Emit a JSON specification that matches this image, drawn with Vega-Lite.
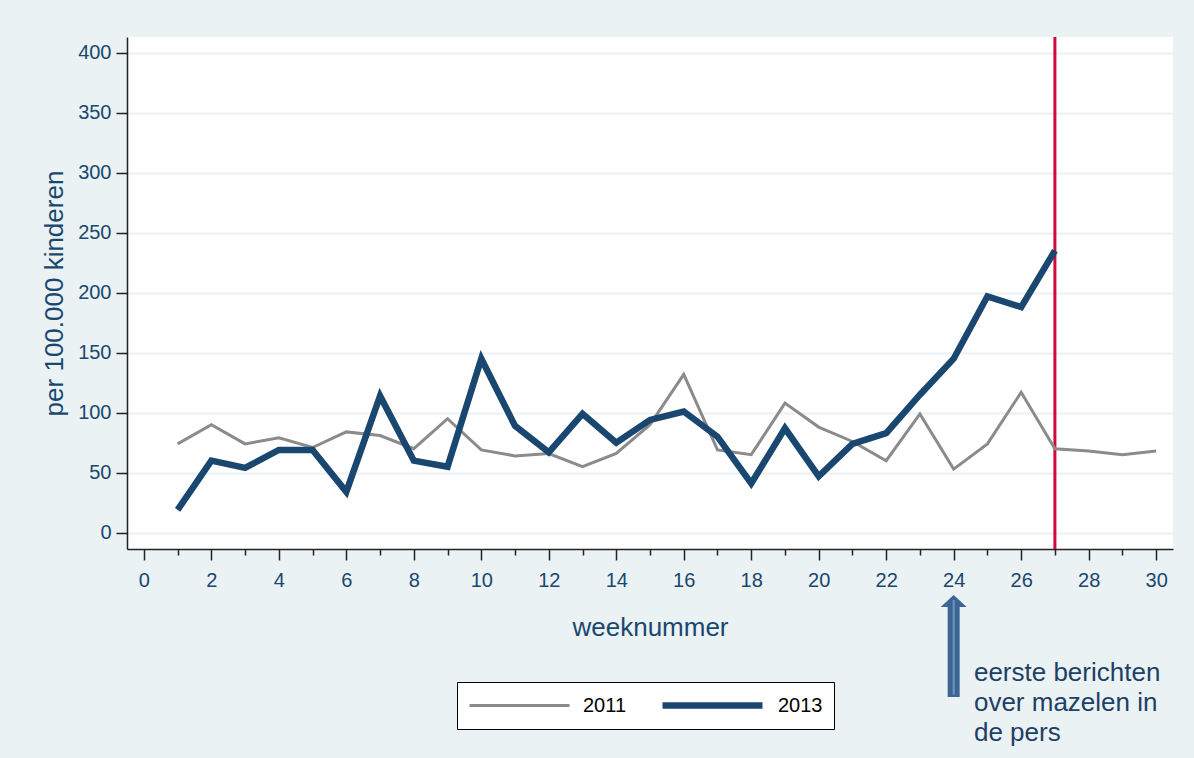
{
  "$schema": "https://vega.github.io/schema/vega-lite/v6.json",
  "width": 1046,
  "height": 512,
  "autosize": {"type": "none"},
  "padding": {"left": 127, "top": 37, "right": 21, "bottom": 209},
  "background": "#EAF2F3",
  "view": {"fill": "white", "stroke": null},
  "config": {
    "font": "Liberation Sans",
    "axisX": {
      "tickColor": "#222222", "tickWidth": 1.5,
      "domainColor": "#222222", "domainWidth": 1.5,
      "labelFontSize": 20, "labelColor": "#1A476F", "labelPadding": 10,
      "labelFlush": false, "labelOverlap": false,
      "titleFontSize": 26, "titleFontWeight": "normal",
      "titleColor": "#1A476F", "titlePadding": 24,
      "grid": false
    },
    "axisY": {
      "tickSize": 11, "tickColor": "#222222", "tickWidth": 1.5,
      "domainColor": "#222222", "domainWidth": 1.5,
      "labelFontSize": 20, "labelColor": "#1A476F", "labelPadding": 5,
      "titleFontSize": 26, "titleFontWeight": "normal",
      "titleColor": "#1A476F", "titlePadding": 10,
      "grid": true, "gridColor": "#EAF2F3", "gridWidth": 2
    }
  },
  "datasets": {
    "series": [
      {"week": 1, "year": "2011", "value": 74},
      {"week": 2, "year": "2011", "value": 90},
      {"week": 3, "year": "2011", "value": 74},
      {"week": 4, "year": "2011", "value": 79},
      {"week": 5, "year": "2011", "value": 71},
      {"week": 6, "year": "2011", "value": 84},
      {"week": 7, "year": "2011", "value": 81},
      {"week": 8, "year": "2011", "value": 70},
      {"week": 9, "year": "2011", "value": 95},
      {"week": 10, "year": "2011", "value": 69},
      {"week": 11, "year": "2011", "value": 64},
      {"week": 12, "year": "2011", "value": 66},
      {"week": 13, "year": "2011", "value": 55},
      {"week": 14, "year": "2011", "value": 66},
      {"week": 15, "year": "2011", "value": 90},
      {"week": 16, "year": "2011", "value": 132},
      {"week": 17, "year": "2011", "value": 69},
      {"week": 18, "year": "2011", "value": 65},
      {"week": 19, "year": "2011", "value": 108},
      {"week": 20, "year": "2011", "value": 88},
      {"week": 21, "year": "2011", "value": 76},
      {"week": 22, "year": "2011", "value": 60},
      {"week": 23, "year": "2011", "value": 99},
      {"week": 24, "year": "2011", "value": 53},
      {"week": 25, "year": "2011", "value": 74},
      {"week": 26, "year": "2011", "value": 117},
      {"week": 27, "year": "2011", "value": 70},
      {"week": 28, "year": "2011", "value": 68},
      {"week": 29, "year": "2011", "value": 65},
      {"week": 30, "year": "2011", "value": 68},
      {"week": 1, "year": "2013", "value": 19},
      {"week": 2, "year": "2013", "value": 60},
      {"week": 3, "year": "2013", "value": 54},
      {"week": 4, "year": "2013", "value": 69},
      {"week": 5, "year": "2013", "value": 69},
      {"week": 6, "year": "2013", "value": 34},
      {"week": 7, "year": "2013", "value": 114},
      {"week": 8, "year": "2013", "value": 60},
      {"week": 9, "year": "2013", "value": 55},
      {"week": 10, "year": "2013", "value": 145},
      {"week": 11, "year": "2013", "value": 89},
      {"week": 12, "year": "2013", "value": 67},
      {"week": 13, "year": "2013", "value": 99},
      {"week": 14, "year": "2013", "value": 75},
      {"week": 15, "year": "2013", "value": 94},
      {"week": 16, "year": "2013", "value": 101},
      {"week": 17, "year": "2013", "value": 80},
      {"week": 18, "year": "2013", "value": 41},
      {"week": 19, "year": "2013", "value": 87},
      {"week": 20, "year": "2013", "value": 47},
      {"week": 21, "year": "2013", "value": 74},
      {"week": 22, "year": "2013", "value": 83},
      {"week": 23, "year": "2013", "value": 115},
      {"week": 24, "year": "2013", "value": 145},
      {"week": 25, "year": "2013", "value": 197},
      {"week": 26, "year": "2013", "value": 188},
      {"week": 27, "year": "2013", "value": 235}
    ],
    "event": [{"week": 27}],
    "note": [
      {"week": 24, "shaftBottom": -137, "shaftTop": -60, "stripeBottom": -135, "stripeTop": -56, "head": -57, "textWeek": 24.6, "textY": -124, "label": "eerste berichten\nover mazelen in\nde pers"}
    ]
  },
  "layer": [
    {
      "data": {"name": "event"},
      "mark": {"type": "rule", "color": "#CF0A3C", "strokeWidth": 3},
      "encoding": {
        "x": {
          "field": "week", "type": "quantitative",
          "scale": {"domain": [-0.5, 30.5], "nice": false, "zero": false},
          "axis": {
            "values": [0,1,2,3,4,5,6,7,8,9,10,11,12,13,14,15,16,17,18,19,20,21,22,23,24,25,26,27,28,29,30],
            "labelExpr": "datum.value % 2 === 0 ? datum.label : ''",
            "tickSize": {"condition": {"test": "datum.value % 2 === 0", "value": 11}, "value": 6},
            "title": "weeknummer"
          }
        }
      }
    },
    {
      "data": {"name": "series"},
      "mark": {"type": "line", "strokeJoin": "miter", "strokeCap": "butt"},
      "encoding": {
        "x": {
          "field": "week", "type": "quantitative",
          "scale": {"domain": [-0.5, 30.5], "nice": false, "zero": false},
          "axis": {
            "values": [0,1,2,3,4,5,6,7,8,9,10,11,12,13,14,15,16,17,18,19,20,21,22,23,24,25,26,27,28,29,30],
            "labelExpr": "datum.value % 2 === 0 ? datum.label : ''",
            "tickSize": {"condition": {"test": "datum.value % 2 === 0", "value": 11}, "value": 6},
            "title": "weeknummer"
          }
        },
        "y": {
          "field": "value", "type": "quantitative",
          "scale": {"domain": [-13.6, 413.1], "nice": false, "zero": false},
          "axis": {"values": [0, 50, 100, 150, 200, 250, 300, 350, 400], "title": "per 100.000 kinderen"}
        },
        "color": {
          "field": "year", "type": "ordinal",
          "scale": {"domain": ["2011", "2013"], "range": ["#8B8B8B", "#1A476F"]},
          "legend": {
            "orient": "none", "legendX": 330, "legendY": 645, "direction": "horizontal",
            "title": null, "symbolType": "stroke", "symbolSize": 10000, "clipHeight": 25,
            "labelOffset": 12, "columnPadding": 32, "labelFontSize": 20, "labelColor": "black",
            "padding": 11, "strokeColor": "black", "fillColor": "white"
          }
        },
        "strokeWidth": {
          "field": "year", "type": "ordinal",
          "scale": {"domain": ["2011", "2013"], "range": [3, 6.5]},
          "legend": {
            "orient": "none", "legendX": 330, "legendY": 645, "direction": "horizontal",
            "title": null, "symbolType": "stroke", "symbolSize": 10000, "clipHeight": 25,
            "labelOffset": 12, "columnPadding": 32, "labelFontSize": 20, "labelColor": "black",
            "padding": 11, "strokeColor": "black", "fillColor": "white"
          }
        }
      }
    },
    {
      "data": {"name": "note"},
      "mark": {"type": "rule", "color": "#3D6594", "strokeWidth": 12},
      "encoding": {
        "x": {
          "field": "week", "type": "quantitative",
          "scale": {"domain": [-0.5, 30.5], "nice": false, "zero": false},
          "axis": {
            "values": [0,1,2,3,4,5,6,7,8,9,10,11,12,13,14,15,16,17,18,19,20,21,22,23,24,25,26,27,28,29,30],
            "labelExpr": "datum.value % 2 === 0 ? datum.label : ''",
            "tickSize": {"condition": {"test": "datum.value % 2 === 0", "value": 11}, "value": 6},
            "title": "weeknummer"
          }
        },
        "y": {
          "field": "shaftBottom", "type": "quantitative",
          "scale": {"domain": [-13.6, 413.1], "nice": false, "zero": false},
          "axis": {"values": [0, 50, 100, 150, 200, 250, 300, 350, 400], "title": "per 100.000 kinderen"}
        },
        "y2": {"field": "shaftTop"}
      }
    },
    {
      "data": {"name": "note"},
      "mark": {"type": "point", "shape": "M-1,0.46L0,-0.46L1,0.46Z", "size": 676, "filled": true, "color": "#3D6594", "opacity": 1, "strokeWidth": 0},
      "encoding": {
        "x": {
          "field": "week", "type": "quantitative",
          "scale": {"domain": [-0.5, 30.5], "nice": false, "zero": false},
          "axis": {
            "values": [0,1,2,3,4,5,6,7,8,9,10,11,12,13,14,15,16,17,18,19,20,21,22,23,24,25,26,27,28,29,30],
            "labelExpr": "datum.value % 2 === 0 ? datum.label : ''",
            "tickSize": {"condition": {"test": "datum.value % 2 === 0", "value": 11}, "value": 6},
            "title": "weeknummer"
          }
        },
        "y": {
          "field": "head", "type": "quantitative",
          "scale": {"domain": [-13.6, 413.1], "nice": false, "zero": false},
          "axis": {"values": [0, 50, 100, 150, 200, 250, 300, 350, 400], "title": "per 100.000 kinderen"}
        }
      }
    },
    {
      "data": {"name": "note"},
      "mark": {"type": "rule", "color": "#6A94C4", "strokeWidth": 2},
      "encoding": {
        "x": {
          "field": "week", "type": "quantitative",
          "scale": {"domain": [-0.5, 30.5], "nice": false, "zero": false},
          "axis": {
            "values": [0,1,2,3,4,5,6,7,8,9,10,11,12,13,14,15,16,17,18,19,20,21,22,23,24,25,26,27,28,29,30],
            "labelExpr": "datum.value % 2 === 0 ? datum.label : ''",
            "tickSize": {"condition": {"test": "datum.value % 2 === 0", "value": 11}, "value": 6},
            "title": "weeknummer"
          }
        },
        "y": {
          "field": "stripeBottom", "type": "quantitative",
          "scale": {"domain": [-13.6, 413.1], "nice": false, "zero": false},
          "axis": {"values": [0, 50, 100, 150, 200, 250, 300, 350, 400], "title": "per 100.000 kinderen"}
        },
        "y2": {"field": "stripeTop"}
      }
    },
    {
      "data": {"name": "note"},
      "mark": {"type": "text", "align": "left", "baseline": "alphabetic", "fontSize": 26, "lineHeight": 30, "color": "#1E3F66", "lineBreak": "\n"},
      "encoding": {
        "x": {
          "field": "textWeek", "type": "quantitative",
          "scale": {"domain": [-0.5, 30.5], "nice": false, "zero": false},
          "axis": {
            "values": [0,1,2,3,4,5,6,7,8,9,10,11,12,13,14,15,16,17,18,19,20,21,22,23,24,25,26,27,28,29,30],
            "labelExpr": "datum.value % 2 === 0 ? datum.label : ''",
            "tickSize": {"condition": {"test": "datum.value % 2 === 0", "value": 11}, "value": 6},
            "title": "weeknummer"
          }
        },
        "y": {
          "field": "textY", "type": "quantitative",
          "scale": {"domain": [-13.6, 413.1], "nice": false, "zero": false},
          "axis": {"values": [0, 50, 100, 150, 200, 250, 300, 350, 400], "title": "per 100.000 kinderen"}
        },
        "text": {"field": "label"}
      }
    }
  ]
}
